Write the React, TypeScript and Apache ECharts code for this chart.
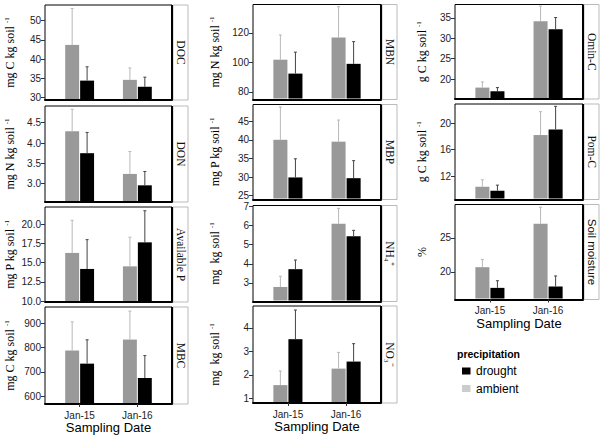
import React, { useEffect, useRef } from 'react';
import * as echarts from 'echarts';

// ---------- data ----------
const dates = ['Jan-15', 'Jan-16'];

const docAmbient = [43.7, 34.6];
const docAmbientSe = [9.5, 3.1];
const docDrought = [34.4, 32.8];
const docDroughtSe = [3.6, 2.5];
const docTicks = [30, 35, 40, 45, 50];

const donAmbient = [4.29, 3.24];
const donAmbientSe = [0.54, 0.55];
const donDrought = [3.75, 2.96];
const donDroughtSe = [0.51, 0.34];
const donTicks = [3.0, 3.5, 4.0, 4.5];

const avpAmbient = [16.27, 14.52];
const avpAmbientSe = [4.25, 3.8];
const avpDrought = [14.18, 17.65];
const avpDroughtSe = [3.82, 4.12];
const avpTicks = [10.0, 12.5, 15.0, 17.5, 20.0];

const mbcAmbient = [788, 833];
const mbcAmbientSe = [118, 117];
const mbcDrought = [734, 675];
const mbcDroughtSe = [98, 92];
const mbcTicks = [600, 700, 800, 900];

const mbnAmbient = [101.8, 116.8];
const mbnAmbientSe = [16.7, 20.8];
const mbnDrought = [92.4, 99.0];
const mbnDroughtSe = [14.5, 15.0];
const mbnTicks = [80, 100, 120];

const mbpAmbient = [40.0, 39.5];
const mbpAmbientSe = [8.8, 5.8];
const mbpDrought = [29.9, 29.7];
const mbpDroughtSe = [5.0, 4.7];
const mbpTicks = [25, 30, 35, 40, 45];

const nh4Ambient = [2.79, 6.09];
const nh4AmbientSe = [0.56, 0.81];
const nh4Drought = [3.72, 5.44];
const nh4DroughtSe = [0.48, 0.31];
const nh4Ticks = [3, 4, 5, 6, 7];

const no3Ambient = [1.57, 2.27];
const no3AmbientSe = [0.6, 0.69];
const no3Drought = [3.52, 2.57];
const no3DroughtSe = [1.24, 0.76];
const no3Ticks = [1, 2, 3, 4];

const ominAmbient = [17.9, 34.2];
const ominAmbientSe = [1.4, 3.7];
const ominDrought = [17.0, 32.2];
const ominDroughtSe = [0.9, 2.9];
const ominTicks = [20, 25, 30, 35];

const pomAmbient = [10.46, 18.2];
const pomAmbientSe = [1.04, 3.5];
const pomDrought = [9.86, 19.05];
const pomDroughtSe = [0.84, 3.45];
const pomTicks = [12, 16, 20];

const moistAmbient = [20.69, 27.06];
const moistAmbientSe = [1.11, 2.44];
const moistDrought = [17.65, 17.85];
const moistDroughtSe = [1.05, 1.55];
const moistTicks = [20, 25];

const legendNames = ['drought', 'ambient'];

// ---------- layout ----------
const colLeft = [45, 253, 455];
const colWidth = [127, 128, 128];
const titleX = [10, 215, 422];
const STRIP_W = 15;

type Panel = {
  strip: string; stripFont?: string; title: string; sup: boolean;
  col: number; top: number; height: number; bottom: boolean;
  amb: number[]; ambSe: number[]; dro: number[]; droSe: number[];
  ticks: number[]; dec: number; min: number; max: number;
};

const panels: Panel[] = [
  { strip: 'DOC', title: 'mg C kg soil ', sup: true, col: 0, top: 5, height: 95, bottom: false,
    amb: docAmbient, ambSe: docAmbientSe, dro: docDrought, droSe: docDroughtSe, ticks: docTicks, dec: 0, min: 29.35, max: 54.1 },
  { strip: 'DON', title: 'mg N kg soil ', sup: true, col: 0, top: 106, height: 96, bottom: false,
    amb: donAmbient, ambSe: donAmbientSe, dro: donDrought, droSe: donDroughtSe, ticks: donTicks, dec: 1, min: 2.55, max: 4.91 },
  { strip: 'Available P', title: 'mg P kg soil ', sup: true, col: 0, top: 207, height: 95, bottom: false,
    amb: avpAmbient, ambSe: avpAmbientSe, dro: avpDrought, droSe: avpDroughtSe, ticks: avpTicks, dec: 1, min: 9.87, max: 22.26 },
  { strip: 'MBC', title: 'mg C kg soil ', sup: true, col: 0, top: 307, height: 97, bottom: true,
    amb: mbcAmbient, ambSe: mbcAmbientSe, dro: mbcDrought, droSe: mbcDroughtSe, ticks: mbcTicks, dec: 0, min: 568, max: 967 },
  { strip: 'MBN', title: 'mg N kg soil ', sup: true, col: 1, top: 4.5, height: 95, bottom: false,
    amb: mbnAmbient, ambSe: mbnAmbientSe, dro: mbnDrought, droSe: mbnDroughtSe, ticks: mbnTicks, dec: 0, min: 74.9, max: 139.1 },
  { strip: 'MBP', title: 'mg P kg soil ', sup: true, col: 1, top: 104.5, height: 95, bottom: false,
    amb: mbpAmbient, ambSe: mbpAmbientSe, dro: mbpDrought, droSe: mbpDroughtSe, ticks: mbpTicks, dec: 0, min: 23.98, max: 49.47 },
  { strip: 'NH\u2084\u207A', title: 'mg  kg soil ', sup: true, col: 1, top: 205.5, height: 96, bottom: false,
    amb: nh4Ambient, ambSe: nh4AmbientSe, dro: nh4Drought, droSe: nh4DroughtSe, ticks: nh4Ticks, dec: 0, min: 2.03, max: 7.05 },
  { strip: 'NO\u2083\u207B', title: 'mg  kg soil ', sup: true, col: 1, top: 306, height: 97, bottom: true,
    amb: no3Ambient, ambSe: no3AmbientSe, dro: no3Drought, droSe: no3DroughtSe, ticks: no3Ticks, dec: 0, min: 0.81, max: 4.93 },
  { strip: 'Omin-C', title: 'g C kg soil ', sup: true, col: 2, top: 4.5, height: 94.5, bottom: false,
    amb: ominAmbient, ambSe: ominAmbientSe, dro: ominDrought, droSe: ominDroughtSe, ticks: ominTicks, dec: 0, min: 15.1, max: 38.3 },
  { strip: 'Pom-C', title: 'g C kg soil ', sup: true, col: 2, top: 104, height: 95.5, bottom: false,
    amb: pomAmbient, ambSe: pomAmbientSe, dro: pomDrought, droSe: pomDroughtSe, ticks: pomTicks, dec: 0, min: 8.55, max: 22.85 },
  { strip: 'Soil moisture', stripFont: 'Liberation Sans', title: '%', sup: false, col: 2, top: 204.5, height: 95, bottom: true,
    amb: moistAmbient, ambSe: moistAmbientSe, dro: moistDrought, droSe: moistDroughtSe, ticks: moistTicks, dec: 0, min: 15.94, max: 29.9 },
];

function makeSeries(name: string, idx: number, means: number[], ses: number[], fill: string, errColor: string, side: number) {
  return {
    type: 'custom',
    name,
    xAxisIndex: idx,
    yAxisIndex: idx,
    data: means.map((m, k) => [k + 1, m, ses[k]]),
    renderItem: (params: any, api: any) => {
      const x = api.value(0);
      const m = api.value(1);
      const se = api.value(2);
      const top = api.coord([x, m]);
      const errTop = api.coord([x, m + se]);
      const cs = params.coordSys;
      const bottom = cs.y + cs.height - 1;
      const unit = api.size([1, 0])[0];
      const bw = unit * 0.25;
      const x0 = side < 0 ? top[0] - bw : top[0] + 0.5;
      const x1 = side < 0 ? top[0] - 0.5 : top[0] + bw;
      const xm = (x0 + x1) / 2;
      return {
        type: 'group',
        children: [
          { type: 'rect', shape: { x: x0, y: top[1], width: x1 - x0, height: bottom - top[1] }, style: { fill } },
          { type: 'line', shape: { x1: xm, y1: top[1], x2: xm, y2: errTop[1] }, style: { stroke: errColor, lineWidth: 1 } },
          { type: 'line', shape: { x1: xm - 1.5, y1: errTop[1], x2: xm + 1.5, y2: errTop[1] }, style: { stroke: errColor, lineWidth: 1 } },
        ],
      };
    },
  };
}

function buildOption() {
  const grid: any[] = [];
  const xAxis: any[] = [];
  const yAxis: any[] = [];
  const series: any[] = [];
  const graphic: any[] = [];

  panels.forEach((p, i) => {
    const L = colLeft[p.col];
    const W = colWidth[p.col];
    const T = p.top;
    const H = p.height;
    grid.push({ left: L, top: T, width: W, height: H, show: true, borderColor: '#000', borderWidth: 1, backgroundColor: '#fff' });
    xAxis.push({
      type: 'value', gridIndex: i, min: 0.4, max: 2.6,
      axisLine: { show: true, onZero: false, lineStyle: { color: '#000', width: 2 } },
      splitLine: { show: false },
      axisTick: { show: p.bottom, customValues: [1, 2], length: 3, lineStyle: { color: '#333' } },
      axisLabel: {
        show: p.bottom, customValues: [1, 2], margin: 6, fontSize: 10,
        fontFamily: 'Liberation Sans', color: '#222',
        formatter: (v: number) => dates[Math.round(v) - 1] || '',
      },
      name: p.bottom ? 'Sampling Date' : '',
      nameLocation: 'middle', nameGap: 17,
      nameTextStyle: { fontSize: 13, fontFamily: 'Liberation Sans', color: '#000' },
    });
    yAxis.push({
      type: 'value', gridIndex: i, min: p.min, max: p.max,
      axisLine: { show: false },
      splitLine: { show: false },
      axisTick: { show: true, customValues: p.ticks, length: 4, lineStyle: { color: '#333' } },
      axisLabel: {
        customValues: p.ticks, margin: 4, fontSize: 10, fontFamily: 'Liberation Sans', color: '#222',
        formatter: (v: number) => v.toFixed(p.dec),
      },
    });
    series.push(makeSeries('ambient', i, p.amb, p.ambSe, '#999999', '#b8b8b8', -1));
    series.push(makeSeries('drought', i, p.dro, p.droSe, '#000000', '#444444', 1));

    // thick right border
    graphic.push({ type: 'line', shape: { x1: L + W, y1: T, x2: L + W, y2: T + H }, style: { stroke: '#000', lineWidth: 2 }, z: 10 });
    // strip
    graphic.push({ type: 'rect', shape: { x: L + W + 1, y: T, width: STRIP_W, height: H }, style: { fill: '#fff', stroke: '#aaa', lineWidth: 0.8 } });
    graphic.push({
      type: 'text', x: L + W + 1 + STRIP_W / 2, y: T + H / 2, rotation: -Math.PI / 2,
      style: { text: p.strip, fontFamily: p.stripFont || 'Liberation Serif', fontSize: 11.5, fill: '#111', align: 'center', verticalAlign: 'middle' },
    });
    // y title
    graphic.push({
      type: 'text', x: titleX[p.col], y: T + H / 2, rotation: Math.PI / 2,
      style: p.sup
        ? {
            text: '{a|' + p.title + '}{b|-1}',
            rich: {
              a: { fontFamily: 'Liberation Serif', fontSize: 12, fill: '#000', lineHeight: 14 },
              b: { fontFamily: 'Liberation Serif', fontSize: 7, fill: '#000', verticalAlign: 'top', lineHeight: 14, padding: [0, 0, 5, 0] },
            },
            align: 'center', verticalAlign: 'middle',
          }
        : { text: p.title, fontFamily: 'Liberation Serif', fontSize: 12, fill: '#000', align: 'center', verticalAlign: 'middle' },
    });
  });

  // legend
  graphic.push({ type: 'text', x: 457, y: 354, style: { text: 'precipitation', fontFamily: 'Liberation Sans', fontWeight: 'bold', fontSize: 10.5, fill: '#000', align: 'left', verticalAlign: 'middle' } });
  graphic.push({ type: 'rect', shape: { x: 462, y: 367.5, width: 8.5, height: 7 }, style: { fill: '#000' } });
  graphic.push({ type: 'text', x: 476, y: 371, style: { text: legendNames[0], fontFamily: 'Liberation Sans', fontSize: 12, fill: '#000', align: 'left', verticalAlign: 'middle' } });
  graphic.push({ type: 'rect', shape: { x: 462, y: 385, width: 8.5, height: 7 }, style: { fill: '#cccccc' } });
  graphic.push({ type: 'text', x: 476, y: 389, style: { text: legendNames[1], fontFamily: 'Liberation Sans', fontSize: 12, fill: '#000', align: 'left', verticalAlign: 'middle' } });

  return {
    animation: false,
    backgroundColor: '#fff',
    textStyle: { fontFamily: 'Liberation Sans' },
    grid, xAxis, yAxis, series, graphic,
  };
}

export default function App() {
  const ref = useRef<HTMLDivElement>(null);
  useEffect(() => {
    if (!ref.current) return;
    const chart = echarts.init(ref.current, undefined, { renderer: 'svg' });
    chart.setOption(buildOption() as any);
    return () => chart.dispose();
  }, []);
  return <div ref={ref} style={{ position: 'fixed', left: 0, top: 0, width: 600, height: 436 }} />;
}
